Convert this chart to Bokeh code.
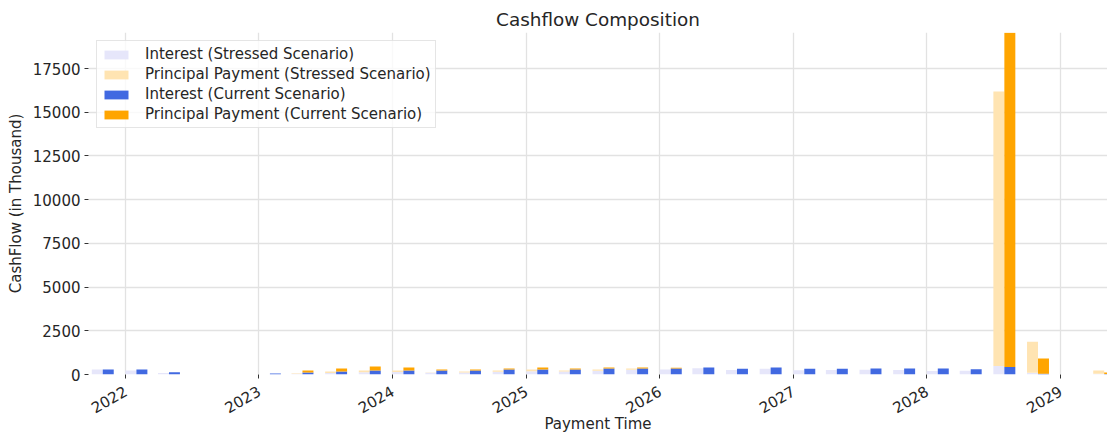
import pandas as pd
from bokeh.plotting import figure
from bokeh.models import ColumnDataSource, Range1d, FixedTicker, DatetimeTickFormatter, BasicTickFormatter
from bokeh.embed import file_html
from bokeh.resources import INLINE

# ---------------- data ----------------
payment_dates = [
    "2021-10-31", "2022-01-31", "2022-04-30", "2022-07-31", "2022-10-31",
    "2023-01-31", "2023-04-30", "2023-07-31", "2023-10-31",
    "2024-01-31", "2024-04-30", "2024-07-31", "2024-10-31",
    "2025-01-31", "2025-04-30", "2025-07-31", "2025-10-31",
    "2026-01-31", "2026-04-30", "2026-07-31", "2026-10-31",
    "2027-01-31", "2027-04-30", "2027-07-31", "2027-10-31",
    "2028-01-31", "2028-04-30", "2028-07-31", "2028-10-31",
    "2029-01-31", "2029-04-30",
]
stressed_interest = [290, 230, 80, 0, 0,
                     0, 40, 90, 130,
                     150, 100, 120, 160,
                     190, 170, 220, 270,
                     285, 360, 260, 330,
                     250, 260, 270, 260,
                     200, 210, 490, 100,
                     0, 40]
stressed_principal = [0, 0, 0, 0, 0,
                      0, 30, 80, 100,
                      80, 15, 50, 70,
                      95, 60, 65, 70,
                      0, 0, 0, 0,
                      0, 0, 0, 0,
                      0, 0, 15700, 1780,
                      0, 190]
current_interest = [290, 290, 130, 0, 0,
                    60, 110, 170, 230,
                    230, 230, 230, 285,
                    290, 285, 340, 340,
                    340, 400, 330, 400,
                    330, 330, 340, 340,
                    340, 300, 430, 40,
                    0, 30]
current_principal = [0, 0, 0, 0, 0,
                     0, 120, 170, 230,
                     170, 55, 60, 60,
                     110, 60, 60, 60,
                     40, 0, 0, 0,
                     0, 0, 0, 0,
                     0, 0, 19120, 870,
                     0, 90]
tick_years = [2022, 2023, 2024, 2025, 2026, 2027, 2028, 2029]
y_ticks = [0, 2500, 5000, 7500, 10000, 12500, 15000, 17500]

FONT = "DejaVu Sans"
TXT = "#262626"
FS = "15px"

dates = pd.to_datetime(pd.Series(payment_dates))
half = pd.Timedelta(days=15)
bar_w = 30 * 24 * 3600 * 1000  # 30 days in ms

si = pd.Series(stressed_interest, dtype=float)
sp = pd.Series(stressed_principal, dtype=float)
ci = pd.Series(current_interest, dtype=float)
cp = pd.Series(current_principal, dtype=float)

src_s = ColumnDataSource(dict(x=dates - half, zero=[0.0] * len(si), i_top=si, p_top=si + sp))
src_c = ColumnDataSource(dict(x=dates + half, zero=[0.0] * len(ci), i_top=ci, p_top=ci + cp))

p = figure(
    width=1107, height=435,
    x_axis_type="datetime",
    output_backend="svg", toolbar_location=None,
    x_range=Range1d(pd.Timestamp("2021-09-22"), pd.Timestamp("2029-05-09")),
    y_range=Range1d(0, 19560),
    min_border_left=88, min_border_right=0, min_border_top=32, min_border_bottom=60,
    title="Cashflow Composition",
)

p.vbar(x="x", width=bar_w, bottom="zero", top="i_top", source=src_s,
       fill_color="#e6e6fa", line_color=None, legend_label="Interest (Stressed Scenario)")
p.vbar(x="x", width=bar_w, bottom="i_top", top="p_top", source=src_s,
       fill_color="#ffe4b2", line_color=None, legend_label="Principal Payment (Stressed Scenario)")
p.vbar(x="x", width=bar_w, bottom="zero", top="i_top", source=src_c,
       fill_color="#4169e1", line_color=None, legend_label="Interest (Current Scenario)")
p.vbar(x="x", width=bar_w, bottom="i_top", top="p_top", source=src_c,
       fill_color="#ffa500", line_color=None, legend_label="Principal Payment (Current Scenario)")

# title
p.title.align = "center"
p.title.text_font = FONT
p.title.text_font_size = "18.4px"
p.title.text_font_style = "normal"
p.title.text_color = TXT
p.title.standoff = 5
p.outline_line_color = None

# x axis
year_ms = [pd.Timestamp(f"{y}-01-01").value // 10**6 for y in tick_years]
p.xaxis.ticker = FixedTicker(ticks=year_ms)
p.xaxis.formatter = DatetimeTickFormatter(years="%Y", months="%Y", days="%Y", hours="%Y",
                                          minutes="%Y", seconds="%Y", milliseconds="%Y")
p.xaxis.major_label_orientation = 0.52
p.xaxis.axis_label = "Payment Time"

# y axis
p.yaxis.ticker = FixedTicker(ticks=y_ticks)
p.yaxis.formatter = BasicTickFormatter(use_scientific=False)
p.yaxis.axis_label = "CashFlow (in Thousand)"

for ax in (p.xaxis, p.yaxis):
    ax.axis_line_color = None
    ax.major_tick_line_color = "#333333"
    ax.major_tick_in = 0
    ax.major_tick_out = 4
    ax.minor_tick_line_color = None
    ax.major_label_text_font = FONT
    ax.major_label_text_font_size = FS
    ax.major_label_text_color = TXT
    ax.axis_label_text_font = FONT
    ax.axis_label_text_font_size = FS
    ax.axis_label_text_font_style = "normal"
    ax.axis_label_text_color = TXT
    ax.major_label_text_line_height = 1.0
    ax.axis_label_text_line_height = 1.0

p.xaxis.major_label_standoff = 11
p.xaxis.axis_label_standoff = -7
p.yaxis.major_label_standoff = 4
p.yaxis.axis_label_standoff = 5

p.grid.grid_line_color = "#e2e2e2"
p.grid.grid_line_width = 1.3

# legend
lg = p.legend[0]
lg.location = "top_left"
lg.margin = 8
lg.padding = 4
lg.spacing = 2
lg.glyph_width = 30
lg.glyph_height = 11
lg.label_height = 11
lg.label_standoff = 14
lg.label_text_font = FONT
lg.label_text_font_size = FS
lg.label_text_color = TXT
lg.label_text_line_height = 1.0
lg.border_line_color = "#cccccc"
lg.border_line_width = 1
lg.background_fill_alpha = 0.8

open("out.html", "w").write(file_html(p, INLINE))
